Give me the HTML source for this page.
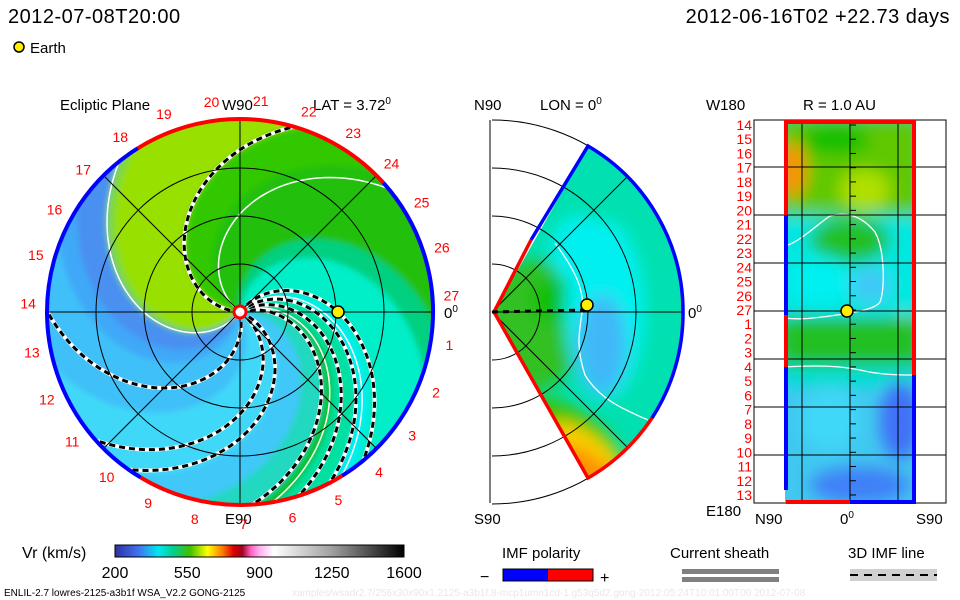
<!DOCTYPE html>
<html><head><meta charset="utf-8">
<style>
html,body{margin:0;padding:0;background:#fff;}
svg{display:block;font-family:"Liberation Sans",sans-serif;}
</style></head>
<body>
<svg id="c" width="960" height="600" viewBox="0 0 960 600" xmlns="http://www.w3.org/2000/svg">
<defs>
 <clipPath id="discClip"><circle cx="240" cy="312" r="193"/></clipPath>
 <clipPath id="wedgeClip"><path d="M494,312 L588,146 A192,192 0 0 1 588,478 Z"/></clipPath>
 <clipPath id="rectClip"><rect x="785" y="122" width="130" height="380"/></clipPath>
 <clipPath id="boxClip"><rect x="490" y="115" width="200" height="390"/></clipPath>
 <filter id="blur3"><feGaussianBlur stdDeviation="3"/></filter>
 <filter id="blur8"><feGaussianBlur stdDeviation="8"/></filter>
 <linearGradient id="cbar" x1="0" x2="1" y1="0" y2="0">
  <stop offset="0" stop-color="#3030a0"/><stop offset="0.08" stop-color="#4070f0"/>
  <stop offset="0.15" stop-color="#00e8f0"/><stop offset="0.2" stop-color="#00d090"/>
  <stop offset="0.26" stop-color="#40c000"/><stop offset="0.32" stop-color="#ffff00"/>
  <stop offset="0.37" stop-color="#ff8000"/><stop offset="0.41" stop-color="#e00000"/>
  <stop offset="0.44" stop-color="#a00020"/><stop offset="0.47" stop-color="#ff60c0"/>
  <stop offset="0.5" stop-color="#ffb0f0"/><stop offset="0.55" stop-color="#ffffff"/>
  <stop offset="0.75" stop-color="#a0a0a0"/><stop offset="1" stop-color="#000000"/>
 </linearGradient>
</defs>

<text x="8" y="23" font-size="20" letter-spacing="0.5">2012-07-08T20:00</text>
<text x="950" y="23" font-size="20" text-anchor="end" letter-spacing="0.5">2012-06-16T02 +22.73 days</text>
<circle cx="19" cy="47" r="5" fill="#ffee00" stroke="#000" stroke-width="1.5"/>
<text x="30" y="53" font-size="15">Earth</text>

<!-- Left panel -->
<text x="60" y="110" font-size="15">Ecliptic Plane</text>
<text x="222" y="110" font-size="15">W90</text>
<text x="313" y="110" font-size="15">LAT = 3.72<tspan dy="-6" font-size="10">0</tspan></text>
<text x="225" y="524" font-size="15">E90</text>
<text x="444" y="318" font-size="15">0<tspan dy="-6" font-size="10">0</tspan></text>
<g id="disc" clip-path="url(#discClip)">
 <rect x="40" y="110" width="400" height="400" fill="#40d0f0"/>
 <g id="bands" filter="url(#blur3)"></g>
 <g id="contours"></g>
</g>
<g id="leftGrid"></g>
<g id="leftLabels"></g>

<!-- Middle panel -->
<text x="474" y="110" font-size="15">N90</text>
<text x="540" y="110" font-size="15">LON = 0<tspan dy="-6" font-size="10">0</tspan></text>
<text x="474" y="524" font-size="15">S90</text>
<text x="688" y="318" font-size="15">0<tspan dy="-6" font-size="10">0</tspan></text>
<g clip-path="url(#wedgeClip)">
 <rect x="480" y="130" width="220" height="360" fill="#00e0b0"/>
 <g filter="url(#blur8)">
  <ellipse cx="535" cy="325" rx="50" ry="65" fill="#30c020"/>
  <ellipse cx="555" cy="300" rx="22" ry="22" fill="#10c000"/>
  <ellipse cx="605" cy="310" rx="40" ry="90" fill="#00f0f0"/>
  <ellipse cx="602" cy="345" rx="25" ry="50" fill="#40b8f8"/>
  <ellipse cx="580" cy="250" rx="30" ry="35" fill="#00f0f0"/>
  <ellipse cx="570" cy="440" rx="60" ry="30" fill="#40c000" transform="rotate(35 570 440)"/>
  <ellipse cx="585" cy="452" rx="45" ry="20" fill="#f8d000" transform="rotate(35 585 452)"/>
  <ellipse cx="590" cy="470" rx="40" ry="14" fill="#ff9000" transform="rotate(35 590 470)"/>
 </g>
 <path d="M555,243 C575,270 585,290 582,312 C580,330 575,345 585,375 C600,400 625,410 648,420" fill="none" stroke="#fff" stroke-width="1.3"/>
</g>
<g id="midGrid"></g>
<path d="M531,240 L588,146 A192,192 0 0 1 683,312" fill="none" stroke="#0000ff" stroke-width="3.5"/>
<path d="M683,312 A192,192 0 0 1 652,418" fill="none" stroke="#0000ff" stroke-width="3.5"/>
<path d="M652,418 A192,192 0 0 1 588,478 L494,312 L531,240" fill="none" stroke="#ff0000" stroke-width="3.5"/>
<line x1="492" y1="312" x2="585" y2="310" stroke="#000" stroke-width="3" stroke-dasharray="6,5"/>
<circle cx="587" cy="305" r="6" fill="#ffee00" stroke="#000" stroke-width="1.5"/>

<!-- Right panel -->
<text x="706" y="110" font-size="15">W180</text>
<text x="803" y="110" font-size="15">R = 1.0 AU</text>
<text x="706" y="516" font-size="15">E180</text>
<text x="755" y="524" font-size="15">N90</text>
<text x="840" y="524" font-size="15">0<tspan dy="-6" font-size="10">0</tspan></text>
<text x="916" y="524" font-size="15">S90</text>
<g clip-path="url(#rectClip)">
 <rect x="780" y="120" width="140" height="390" fill="#40c8f0"/>
 <g filter="url(#blur8)">
  <rect x="780" y="120" width="140" height="95" fill="#60c800"/>
  <ellipse cx="835" cy="140" rx="35" ry="15" fill="#10c000"/>
  <ellipse cx="865" cy="190" rx="25" ry="20" fill="#b0e000"/>
  <ellipse cx="792" cy="170" rx="14" ry="28" fill="#ff9000"/>
  <ellipse cx="905" cy="280" rx="8" ry="40" fill="#f0c000"/>
  <rect x="780" y="215" width="140" height="100" fill="#00e8e0"/>
  <ellipse cx="850" cy="240" rx="40" ry="22" fill="#20c020"/>
  <ellipse cx="820" cy="280" rx="30" ry="25" fill="#00f0f0"/>
  <ellipse cx="870" cy="285" rx="20" ry="18" fill="#40c8f8"/>
  <rect x="780" y="318" width="140" height="48" fill="#20c020"/>
  <rect x="780" y="366" width="140" height="20" fill="#00e0d0"/>
  <ellipse cx="900" cy="420" rx="20" ry="40" fill="#4070f8"/>
  <ellipse cx="860" cy="485" rx="50" ry="18" fill="#4080f8"/>
  <ellipse cx="830" cy="420" rx="30" ry="30" fill="#40d8f8"/>
 </g>
 <path d="M785,246 C800,242 820,222 830,216 C845,212 860,214 875,232 C885,250 885,290 880,302 C875,310 850,313 830,316 C815,318 800,320 785,318" fill="none" stroke="#fff" stroke-width="1.3"/>
 <path d="M785,367 C820,365 840,366 860,370 C880,375 900,375 915,375" fill="none" stroke="#fff" stroke-width="1.3"/>
</g>
<g id="rightGrid"></g>
<circle cx="847" cy="311" r="6" fill="#ffee00" stroke="#000" stroke-width="1.5"/>

<!-- Bottom legends -->
<text x="22" y="558" font-size="16">Vr (km/s)</text>
<rect x="115" y="545" width="289" height="12" fill="url(#cbar)" stroke="#000" stroke-width="1"/>
<g id="cbarTicks"></g>
<text x="502" y="558" font-size="15">IMF polarity</text>
<text x="480" y="582" font-size="16">−</text>
<rect x="503" y="569" width="45" height="12" fill="#0000ff"/>
<rect x="548" y="569" width="45" height="12" fill="#ff0000"/>
<rect x="503" y="569" width="90" height="12" fill="none" stroke="#000"/>
<text x="600" y="583" font-size="16">+</text>
<text x="670" y="558" font-size="15">Current sheath</text>
<rect x="682" y="569" width="97" height="5" fill="#808080"/>
<rect x="682" y="577" width="97" height="5" fill="#808080"/>
<text x="848" y="558" font-size="15">3D IMF line</text>
<rect x="850" y="569" width="87" height="12" fill="#d0d0d0"/>
<line x1="850" y1="575" x2="937" y2="575" stroke="#000" stroke-width="2" stroke-dasharray="8,6"/>
<text x="4" y="596" font-size="10">ENLIL-2.7 lowres-2125-a3b1f WSA_V2.2 GONG-2125</text>
<text x="292" y="596" font-size="10" fill="#e8e8e8">xamples/wsadr2.7/256x30x90x1.2125-a3b1f.8-mcp1umn1cd-1.g53q5d2.gong-2012:05:24T10:01:00T00    2012-07-08</text>
</svg>
<script>
const NS="http://www.w3.org/2000/svg";
const CX=240, CY=312, R=193, TWIST=0.53;
// Source-longitude bands (deg) and colours for the ecliptic speed map
const bandStarts=[0,18,24,40,48,85,100,150,176,226,232,250,262,300,340];
const bandColors=["#20d8c0","#10c000","#00e0a0","#00f0f0","#00eec8","#00d080","#20c010","#30c800","#98e000","#80d840","#4890f0","#40a8f8","#40c0f8","#40d8f8","#40c8f8"];
const contourPsi=[142,231,44,22];
const dashedPsi=[176,282,324,337,16,30,40,52];
const carrLabels=[1,2,3,4,5,6,7,8,9,10,11,12,13,14,15,16,17,18,19,20,21,22,23,24,25,26,27];
const ringRadii=[48,96,144,193];
const cbarValues=[200,550,900,1250,1600];
const rowLabels=[14,15,16,17,18,19,20,21,22,23,24,25,26,27,1,2,3,4,5,6,7,8,9,10,11,12,13];

function mk(tag,attrs,parent){const e=document.createElementNS(NS,tag);for(const k in attrs)e.setAttribute(k,attrs[k]);parent.appendChild(e);return e;}
function sp(psi,r){const a=(psi-TWIST*r)*Math.PI/180;return [CX+r*Math.cos(a),CY-r*Math.sin(a)];}
function spiralPts(psi,r0,r1,rev){const p=[];for(let i=0;i<=60;i++){let r=r0+(r1-r0)*i/60;p.push(sp(psi,r));}if(rev)p.reverse();return p;}

const bands=document.getElementById('bands');
for(let i=0;i<bandStarts.length;i++){
  const a=bandStarts[i], b=(i+1<bandStarts.length?bandStarts[i+1]:360);
  let pts=[];
  for(let k=0;k<=8;k++){pts.push(sp(a+(b-a)*k/8,0));}
  pts=pts.concat(spiralPts(b,0,220,false));
  for(let k=8;k>=0;k--){pts.push(sp(a+(b-a)*k/8,220));}
  pts=pts.concat(spiralPts(a,0,220,true));
  const e=mk('polygon',{points:pts.map(p=>p[0].toFixed(1)+','+p[1].toFixed(1)).join(' '),fill:bandColors[i],stroke:bandColors[i],'stroke-width':1},bands);
  
  
}
const cont=document.getElementById('contours');
contourPsi.forEach(psi=>{
  const e=mk('polyline',{points:spiralPts(psi,8,200).map(p=>p.join(',')).join(' '),fill:'none',stroke:'#fff','stroke-width':1.5},cont);
  
  
});
dashedPsi.forEach(psi=>{
  const d=spiralPts(psi,10,200).map(p=>p.join(',')).join(' ');
  const w=mk('polyline',{points:d,fill:'none',stroke:'#fff','stroke-width':4},cont);
  
  
  const e=mk('polyline',{points:d,fill:'none',stroke:'#000','stroke-width':3,'stroke-dasharray':'6,4'},cont);
  
  
});

const lg=document.getElementById('leftGrid');
ringRadii.forEach(r=>{const e=mk('circle',{cx:CX,cy:CY,r:r,fill:'none',stroke:'#000','stroke-width':1},lg);
  
  });
[0,45,90,135].forEach(a=>{const t=a*Math.PI/180;const e=mk('line',{x1:CX-R*Math.cos(t),y1:CY+R*Math.sin(t),x2:CX+R*Math.cos(t),y2:CY-R*Math.sin(t),stroke:'#000','stroke-width':1},lg);
  
  });
function arc(a0,a1,col){const p0=[CX+R*Math.cos(a0*Math.PI/180),CY-R*Math.sin(a0*Math.PI/180)],p1=[CX+R*Math.cos(a1*Math.PI/180),CY-R*Math.sin(a1*Math.PI/180)];
  const large=Math.abs(a1-a0)>180?1:0;
  const e=mk('path',{d:`M${p0[0]},${p0[1]} A${R},${R} 0 ${large} 1 ${p1[0]},${p1[1]}`,fill:'none',stroke:col,'stroke-width':4},lg);
  
  }
arc(122,42,'#ff0000');arc(42,-58,'#0000ff');arc(-58,-121,'#ff0000');arc(-121,-238,'#0000ff');
const sunE=mk('circle',{cx:CX,cy:CY,r:6,fill:'#fff',stroke:'#ff0000','stroke-width':3},lg);


const earth=mk('circle',{cx:338,cy:312,r:6,fill:'#ffee00',stroke:'#000','stroke-width':1.5},lg);



const ll=document.getElementById('leftLabels');
carrLabels.forEach(n=>{const ang=(4.4+(27-n)*13.33)*Math.PI/180;const rr=212;
  const e=mk('text',{x:CX+rr*Math.cos(ang),y:CY-rr*Math.sin(ang)+5,'font-size':14,fill:'#ff0000','text-anchor':'middle'},ll);
  e.textContent=n;
  
  });

const mg=document.getElementById('midGrid');
const gclip=mk('g',{'clip-path':'url(#boxClip)'},mg);
[48,96,144,192].forEach(r=>{const e=mk('path',{d:`M492,${312-r} A${r},${r} 0 0 1 492,${312+r}`,fill:'none',stroke:'#000','stroke-width':1},gclip);
  
  });
[45,0,-45].forEach(a=>{const t=a*Math.PI/180;const e=mk('line',{x1:492,y1:312,x2:492+192*Math.cos(t),y2:312-192*Math.sin(t),stroke:'#000','stroke-width':1},gclip);
  
  });
const vl=mk('line',{x1:490,y1:120,x2:490,y2:503,stroke:'#000'},mg);



const rg=document.getElementById('rightGrid');
const box=mk('rect',{x:754,y:120,width:192,height:383,fill:'none',stroke:'#000'},rg);


[167,215,263,311,359,407,455].forEach(y=>{const e=mk('line',{x1:754,y1:y,x2:946,y2:y,stroke:'#000'},rg);
  
  });
[802,850,898].forEach(x=>{const e=mk('line',{x1:x,y1:120,x2:x,y2:503,stroke:'#000'},rg);
  
  });
rowLabels.forEach((n,i)=>{const y=125+i*14.23;
  const e=mk('text',{x:752,y:y+5,'font-size':14,fill:'#ff0000','text-anchor':'end'},rg);
  e.textContent=n;
  
  
  const t=mk('line',{x1:850,y1:y,x2:856,y2:y,stroke:'#000'},rg);
  
  });
function pl(d,col){const e=mk('path',{d:d,fill:'none',stroke:col,'stroke-width':4},rg);
  
  }
pl('M786,215 L786,122 L914,122 L914,375','#ff0000');
pl('M914,375 L914,502 L850,502','#0000ff');
pl('M850,502 L786,502','#ff0000');
pl('M786,215 L786,315','#0000ff');pl('M786,315 L786,367','#ff0000');pl('M786,367 L786,490','#0000ff');

const ct=document.getElementById('cbarTicks');
cbarValues.forEach(v=>{const x=115+(v-200)/(1400)*289;
  const e=mk('text',{x:x,y:578,'font-size':16,'text-anchor':'middle'},ct);
  e.textContent=v;
  
  });
</script>
</body></html>
